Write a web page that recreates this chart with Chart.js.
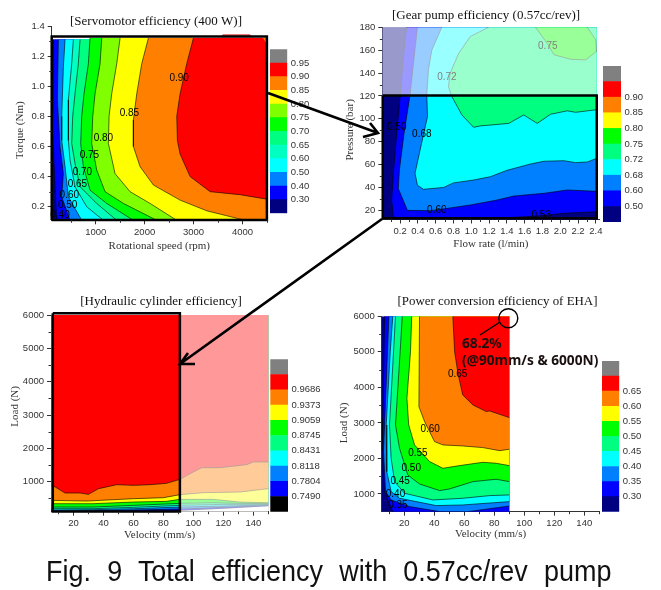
<!DOCTYPE html>
<html><head><meta charset="utf-8">
<script src="https://cdn.jsdelivr.net/npm/chart.js@4"></script>
<style>
html,body{margin:0;padding:0;background:#fff;width:661px;height:590px;overflow:hidden}
canvas{position:absolute;left:0;top:0}
svg{position:absolute;left:0;top:0}
#cap{position:absolute;left:46px;top:555px;width:608px;font:29px "Liberation Sans",Arial,sans-serif;color:#111;white-space:nowrap;text-align:justify;text-align-last:justify;transform:scaleX(.93);transform-origin:0 0}
</style></head><body>
<div id="stack"></div>
<svg width="661" height="590" fill="none" stroke="#000">
<path d="M268 93L378 133M370 123L378 133L363 137M382 219L180 364M195 364L180 364L188 353" stroke-width="2.6"/>
<circle cx="508.3" cy="318.3" r="9.5" stroke-width="1.4"/>
<path d="M480 335L500 322" stroke-width="1.4"/>
</svg>
<div id="cap">Fig. 9 Total efficiency with 0.57cc/rev pump</div>
<script>
// ---- colours
const NAVY='#000080',BLUE='#0000ff',AZURE='#0080ff',CYAN='#00ffff',SPRING2='#00ffc0',SPRING='#00ff80',GREEN='#00ff00',LIME='#80ff00',YELLOW='#ffff00',ORANGE='#ff8000',RED='#ff0000',GRAY='#808080',BLACK='#000000';

// ---- Panel 1: servomotor efficiency (rpm, Nm)
const motorXTicks=[1000,2000,3000,4000], motorXMinor=[500,1500,2500,3500,4500];
const motorYTicks=[0.2,0.4,0.6,0.8,1.0,1.2,1.4], motorYMinor=[0.3,0.5,0.7,0.9,1.1,1.3];
const motorBase=[[100,0.11],[4500,0.11],[4500,1.31],[100,1.31]];
const motor030=[[134,1.31],[120,0.69],[168,0.333],[202,0.11]];
const motor040=[[236,1.31],[216,0.91],[270,0.6],[339,0.42],[305,0.266],[475,0.11]];
const motor050=[[373,1.31],[339,1.13],[305,0.8],[305,0.64],[373,0.466],[441,0.266],[714,0.11]];
const motor060=[[543,1.31],[509,1.15],[441,0.91],[441,0.64],[475,0.51],[577,0.333],[816,0.2],[1157,0.11]];
const motor065=[[680,1.31],[645,1.15],[577,0.95],[530,0.8],[509,0.62],[577,0.488],[680,0.333],[1020,0.222],[1430,0.11]];
const motor070=[[884,1.32],[850,1.15],[761,0.95],[714,0.8],[693,0.62],[748,0.466],[884,0.31],[1225,0.222],[1770,0.11]];
const motor075=[[1123,1.32],[1089,1.15],[986,0.95],[939,0.8],[918,0.62],[1020,0.444],[1191,0.3],[1566,0.222],[2248,0.11]];
const motor080=[[1498,1.32],[1430,1.15],[1327,0.95],[1273,0.8],[1259,0.62],[1395,0.42],[1702,0.3],[2111,0.222],[2657,0.11]];
const motor085=[[2077,1.32],[1941,1.15],[1839,0.95],[1770,0.776],[1770,0.6],[1907,0.466],[2180,0.344],[2725,0.244],[3270,0.173],[4054,0.11]];
const motor090=[[2998,1.32],[2861,1.15],[2725,0.95],[2657,0.8],[2670,0.64],[2725,0.55],[2930,0.4],[3339,0.3],[3952,0.28],[4500,0.25]];
const motorCapTop=[[3543,1.325],[3600,1.345],[4150,1.345],[4225,1.325]];
const motorRect=[[100,0.112],[4500,0.112],[4500,1.33],[100,1.33],[100,0.112]];
const motorBarColors=[NAVY,BLUE,AZURE,CYAN,SPRING2,SPRING,GREEN,LIME,YELLOW,ORANGE,RED,GRAY];
const motorBarLabels=['0.30','0.40','0.50','0.60','0.65','0.70','0.75','0.80','0.85','0.90','0.95'];
const motorText=[['0.90',2705,1.052],['0.85',1689,0.82],['0.80',1157,0.658],['0.75',870,0.539],['0.70',727,0.432],['0.65',625,0.348],['0.60',461,0.277],['0.50',427,0.211],['0.40',270,0.145]];

// ---- Panel 2: gear pump efficiency (l/min, bar)
const pumpXTicks=[0.2,0.4,0.6,0.8,1.0,1.2,1.4,1.6,1.8,2.0,2.2,2.4], pumpXMinor=[0.1,0.3,0.5,0.7,0.9,1.1,1.3,1.5,1.7,1.9,2.1,2.3];
const pumpYTicks=[20,40,60,80,100,120,140,160,180], pumpYMinor=[30,50,70,90,110,130,150,170];
const pumpBase=[[0,12],[2.41,12],[2.41,180],[0,180]];
const pump050=[[0.274,180],[0.244,160],[0.2,119.4],[0.162,87],[0.124,52],[0.105,29],[0.124,14.5],[0.13,12]];
const pump053=[[1.402,13.6],[1.74,15],[2.04,17.4],[2.41,18.8]];
const pump060=[[0.395,180],[0.312,121],[0.244,87],[0.192,55],[0.18,39],[0.282,20],[0.538,19.7],[0.726,21.7],[0.989,24.7],[1.289,29],[1.477,32.5],[1.816,34.9],[2.079,37.8],[2.41,36.6]];
const pump068=[[0.669,180],[0.556,160],[0.519,143],[0.5,121],[0.508,102],[0.425,72.8],[0.368,52.4],[0.395,42],[0.462,38.4],[0.688,40],[0.8,44],[1.026,46.5],[1.214,49.4],[1.402,55],[1.665,60.5],[1.816,62.9],[2.04,63.4],[2.173,61.7],[2.305,62.3],[2.41,65.5]];
const pump072=[[1.195,180],[0.989,172],[0.857,157],[0.763,140],[0.744,128],[0.782,119.4],[0.895,103.4],[1.026,92.6],[1.1,93.8],[1.421,96],[1.59,103.4],[1.741,96],[1.891,104],[2.079,107],[2.173,105.7],[2.41,108]];
const pump075=[[1.722,180],[1.853,166],[1.929,156],[2.117,152],[2.286,151.5],[2.406,158.8],[2.4,169],[2.304,180]];
const pumpFade=[[0,120],[2.41,120],[2.41,180],[0,180]];
const pumpRect=[[0.005,120.3],[2.41,120.3],[2.41,13],[0.005,13],[0.005,120.3]];
const pumpBarColors=[NAVY,BLUE,AZURE,CYAN,SPRING,GREEN,YELLOW,ORANGE,RED,GRAY];
const pumpBarLabels=['0.50','0.60','0.68','0.72','0.75','0.80','0.85','0.90'];
const pumpText=[['0.75',1.86,163.7,'#808080'],['0.72',0.726,136,'#808080'],['0.50',0.162,92.6],['0.68',0.444,86.5],['0.60',0.613,20.3],['0.53',1.786,15.9]];

// ---- Panel 3: hydraulic cylinder efficiency (mm/s, N)
const cylXTicks=[20,40,60,80,100,120,140], cylXMinor=[10,30,50,70,90,110,130,150];
const cylYTicks=[1000,2000,3000,4000,5000,6000], cylYMinor=[500,1500,2500,3500,4500,5500];
const cylBase=[[5.5,100],[150,100],[150,6000],[5.5,6000]];
const cyl7490=[[5.5,105],[60,110],[91,130],[150,250]];
const cyl7804=[[5.5,115],[20,120],[40,130],[60,150],[91,180],[150,280]];
const cyl8118=[[5.5,150],[33,160],[60,190],[91,240],[150,300]];
const cyl8431=[[5.5,190],[33,190],[60,230],[91,290],[120,320],[150,320]];
const cyl8745=[[5.5,240],[33,240],[60,290],[91,350],[113,370],[131,350],[150,340]];
const cyl9059=[[5.5,340],[33,340],[60,390],[82,410],[91,470],[113,470],[131,390],[150,370]];
const cyl9373=[[5.5,440],[28.9,420],[60,490],[80,520],[91,610],[106.7,670],[131,690],[150,790]];
const cyl9686=[[5.5,870],[7.8,840],[14.4,660],[24.4,660],[30,620],[36.7,790],[48.9,910],[60,890],[71,910],[82,950],[91,1070],[97.8,1240],[105.6,1420],[117.8,1420],[135.6,1510],[140,1590],[150,1590]];
const cylFade=[[91,100],[150,100],[150,6000],[91,6000]];
const cylEmpty=[[91,125],[120,190],[150,260],[150,100],[91,100]];
const cylRect=[[6.2,6050],[91,6050],[91,105],[6.2,105],[6.2,6050]];
const cylBarColors=[BLACK,BLUE,AZURE,CYAN,SPRING,GREEN,YELLOW,ORANGE,RED,GRAY];
const cylBarLabels=['0.7490','0.7804','0.8118','0.8431','0.8745','0.9059','0.9373','0.9686'];

// ---- Panel 4: power conversion efficiency (mm/s, N)
const ehaXTicks=[20,40,60,80,100,120,140], ehaXMinor=[10,30,50,70,90,110,130,150];
const ehaYTicks=[1000,2000,3000,4000,5000,6000], ehaYMinor=[1500,2500,3500,4500,5500];
const ehaBase=[[5,500],[90,500],[90,6000],[5,6000]];
const eha030=[[6.9,6000],[5.8,3129],[5.3,2191],[6.9,1066],[12.4,500]];
const eha035=[[9.8,6000],[8,4067],[6.2,2191],[7.6,1066],[11.3,831],[23.6,644],[43.6,503],[62,500],[90,660]];
const eha040=[[12.4,6000],[10.7,5005],[8,2942],[8.4,1628],[11.3,1066],[16.9,878],[41.3,672],[59,690],[90,784]];
const eha045=[[14.2,6000],[12.9,5005],[10.2,2942],[11.3,2004],[13.6,1347],[20.2,1019],[39.1,831],[59,878],[76.9,953],[90,972]];
const eha050=[[18.7,6000],[17.3,5005],[14.2,2942],[16.9,2285],[22.4,1535],[30.2,1281],[43.6,1094],[50.2,1141],[65.8,1347],[81.3,1413],[90,1347]];
const eha055=[[25,6000],[24.2,5005],[21.8,3692],[23,2942],[26.9,2379],[36.9,1910],[45.8,1722],[56.9,1797],[72.4,1891],[81.3,1863],[90,1797]];
const eha060=[[30.2,6000],[29.8,3458],[33.6,3035],[40.2,2473],[45.8,2379],[59,2351],[72.4,2304],[83.6,2219],[90,2257]];
const eha065=[[52.4,6000],[53.6,5005],[55.8,4395],[59,3786],[65.8,3504],[74.7,3317],[76.9,3336],[90,3148]];
const ehaBarColors=[NAVY,BLUE,AZURE,CYAN,SPRING,GREEN,YELLOW,ORANGE,RED,GRAY];
const ehaBarLabels=['0.30','0.35','0.40','0.45','0.50','0.55','0.60','0.65'];
const ehaText=[['0.65',55.6,4368],['0.60',37.3,2820],['0.55',29.1,2154],['0.50',24.7,1713],['0.45',17.3,1347],['0.40',14.2,1000],['0.35',15.8,690]];
const ehaNote=[['68.2%',58.5,5220],['(@90mm/s & 6000N)',58.5,4742]];

// ---- helpers
const W=661,H=590,SANS='"Liberation Sans",Arial,sans-serif',SERIF='"Liberation Serif","Times New Roman",serif',INK='#333';
function mkCanvas(){const c=document.createElement('canvas');c.width=W;c.height=H;c.style.width=W+'px';c.style.height=H+'px';document.getElementById('stack').appendChild(c);return c.getContext('2d');}
const figPlugin={id:'fig',
 afterLayout(ch,a,o){
  if(o.titleX!=null&&ch.titleBlock){const t=ch.titleBlock;t.left=o.titleX-100;t.right=o.titleX+100;t.top=o.titleY-6.5;t.bottom=t.top+13;}
  const y=ch.scales.y;
  if(o.yTitleDy&&y&&!y.__wrapped){const d=y.drawTitle;y.drawTitle=function(){const c=this.ctx;c.save();c.translate(0,o.yTitleDy);d.call(this);c.restore();};y.__wrapped=true;}
 },
 afterDraw(ch,a,o){
  const c=ch.ctx;c.save();c.strokeStyle=INK;c.lineWidth=1;c.beginPath();
  (o.xMinor||[]).forEach(v=>{const p=Math.round(ch.scales.x.getPixelForValue(v))+.5,b=ch.chartArea.bottom;c.moveTo(p,b);c.lineTo(p,b+2.5);});
  (o.yMinor||[]).forEach(v=>{const p=Math.round(ch.scales.y.getPixelForValue(v))+.5,l=ch.chartArea.left;c.moveTo(l,p);c.lineTo(l-2.5,p);});
  c.stroke();
  (o.text||[]).forEach(t=>{c.font='10px '+SANS;c.textAlign='center';c.textBaseline='middle';c.fillStyle=t[3]||'#000';c.fillText(t[0],ch.scales.x.getPixelForValue(t[1]),ch.scales.y.getPixelForValue(t[2]));});
  (o.note||[]).forEach(t=>{c.font='bold 13.7px "Noto Sans",'+SANS;c.textAlign='left';c.textBaseline='middle';c.fillStyle='#1a1010';c.fillText(t[0],ch.scales.x.getPixelForValue(t[1]),ch.scales.y.getPixelForValue(t[2]));});
  c.restore();
 }};
function poly(data,color,extra){return Object.assign({type:'scatter',showLine:true,data,fill:'shape',backgroundColor:color,borderWidth:0,borderColor:'rgba(0,0,0,0)',pointRadius:0,tension:0},extra||{});}
function contour(data){return {type:'scatter',showLine:true,data,fill:false,borderColor:'#000',borderWidth:0.6,pointRadius:0,tension:0};}
function panel(p){
 const [l,t,r,b]=p.rect;
 const axisW=l-(p.yTitleX-6.6), axisH=p.xTitleY-b+6.6;
 const layers=p.layers.slice().reverse();
 new Chart(mkCanvas(),{type:'scatter',data:{datasets:layers},plugins:[figPlugin],options:{
  responsive:false,animation:false,events:[],devicePixelRatio:1,
  layout:{autoPadding:false,padding:{left:l-axisW,top:t-13,right:W-r,bottom:H-b-axisH}},
  plugins:{legend:{display:false},tooltip:{enabled:false},
   title:{display:true,text:p.title,fullSize:false,font:{family:SERIF,size:13,weight:'normal',lineHeight:1},color:'#111',padding:0},
   fig:{titleX:p.titleX,titleY:p.titleY,yTitleDy:p.yTitleDy,xMinor:p.xMinor,yMinor:p.yMinor,text:p.text,note:p.note}},
  scales:{
   x:{type:'linear',min:p.xRange[0],max:p.xRange[1],
    afterFit:s=>{s.height=axisH;},afterBuildTicks:s=>{s.ticks=p.xTicks.map(v=>({value:v}));},
    grid:{display:true,drawOnChartArea:false,tickLength:4,tickColor:INK},border:{color:INK},
    ticks:{autoSkip:false,maxRotation:0,padding:2,color:INK,font:{family:SANS,size:9.5},callback:v=>p.xFmt?p.xFmt(v):v},
    title:{display:true,text:p.xTitle,color:INK,padding:0,font:{family:SERIF,size:11,lineHeight:1.2}}},
   y:{type:'linear',min:p.yRange[0],max:p.yRange[1],
    afterFit:s=>{s.width=axisW;},afterBuildTicks:s=>{s.ticks=p.yTicks.map(v=>({value:v}));},
    grid:{display:true,drawOnChartArea:false,tickLength:4,tickColor:INK},border:{color:INK},
    ticks:{autoSkip:false,padding:3,color:INK,font:{family:SANS,size:9.5},callback:v=>p.yFmt?p.yFmt(v):v},
    title:{display:true,text:p.yTitle,color:INK,padding:0,font:{family:SERIF,size:11,lineHeight:1.2}}}
  }}});
}
function colorbar(rect,colors,labels){
 const [l,t,r,b]=rect;
 new Chart(mkCanvas(),{type:'bar',data:{labels:[''],datasets:colors.map(c=>({data:[1],backgroundColor:c,borderWidth:0,barPercentage:1,categoryPercentage:1}))},options:{
  responsive:false,animation:false,events:[],devicePixelRatio:1,
  layout:{autoPadding:false,padding:{left:l,top:t,right:W-r-40,bottom:H-b}},
  plugins:{legend:{display:false},tooltip:{enabled:false}},
  scales:{x:{display:false,stacked:true},
   y:{position:'right',stacked:true,min:0,max:colors.length,
    afterFit:s=>{s.width=40;},afterBuildTicks:s=>{s.ticks=labels.map((_,i)=>({value:i+1}));},
    grid:{display:false,drawTicks:false},border:{display:false},
    ticks:{autoSkip:false,padding:3.5,color:INK,font:{family:SANS,size:9.5},callback:v=>labels[v-1]}}}}});
}
function bands(list,closure){ // list of [contour,color]
 const out=[];list.forEach(([d,col])=>out.push(poly(d.concat(closure),col)));
 list.forEach(([d])=>out.push(contour(d)));
 return out;
}
const F1=v=>v.toFixed(1);

// ---- Panel 1
panel({title:'[Servomotor efficiency (400 W)]',titleX:156,titleY:22,rect:[51.7,26,266.9,220.3],xRange:[100,4500],yRange:[0.11,1.4],
 xTicks:motorXTicks,yTicks:motorYTicks,xMinor:motorXMinor,yMinor:motorYMinor,yFmt:F1,
 xTitle:'Rotational speed (rpm)',yTitle:'Torque (Nm)',xTitleY:245.7,yTitleX:20,yTitleDy:7,text:motorText,
 layers:[poly(motorBase,NAVY)].concat(
  bands([[motor030,BLUE],[motor040,AZURE],[motor050,CYAN],[motor060,SPRING2],[motor065,SPRING],[motor070,GREEN],[motor075,LIME],[motor080,YELLOW],[motor085,ORANGE]],[[4500,0.11],[4500,1.32]]),
  [poly(motor090.concat([[4500,1.28],[4420,1.32]]),RED),contour(motor090),poly(motorCapTop,'#e05050'),
   poly(motorRect,'rgba(0,0,0,0)',{fill:false,borderColor:'#000',borderWidth:2.5,clip:false})])});
colorbar([270,49.3,287.3,213.3],motorBarColors,motorBarLabels);

// ---- Panel 2
panel({title:'[Gear pump efficiency (0.57cc/rev)]',titleX:486,titleY:16,rect:[382.3,27.3,599.4,219.5],xRange:[0,2.44],yRange:[12,180],
 xTicks:pumpXTicks,yTicks:pumpYTicks,xMinor:pumpXMinor,yMinor:pumpYMinor,xFmt:F1,
 xTitle:'Flow rate (l/min)',yTitle:'Pressure (bar)',xTitleY:244,yTitleX:350,yTitleDy:6.5,text:pumpText,
 layers:[poly(pumpBase,NAVY),poly(pump050.concat([[2.41,12],[2.41,180]]),BLUE),poly(pump053.concat([[2.41,12],[1.4,12]]),NAVY),
  poly(pump060.concat([[2.41,180]]),AZURE),poly(pump068.concat([[2.41,180]]),CYAN),poly(pump072.concat([[2.41,180]]),SPRING),poly(pump075,GREEN),
  contour(pump050),contour(pump053),contour(pump060),contour(pump068),contour(pump072),contour(pump075),
  poly(pumpFade,'rgba(255,255,255,0.6)'),
  poly(pumpRect,'rgba(0,0,0,0)',{fill:false,borderColor:'#000',borderWidth:2.5,clip:false})]});
colorbar([603,66,621,222],pumpBarColors,pumpBarLabels);

// ---- Panel 3
panel({title:'[Hydraulic cylinder efficiency]',titleX:161,titleY:302,rect:[51,315,268.3,511.7],xRange:[5,150],yRange:[100,6000],
 xTicks:cylXTicks,yTicks:cylYTicks,xMinor:cylXMinor,yMinor:cylYMinor,
 xTitle:'Velocity (mm/s)',yTitle:'Load (N)',xTitleY:535,yTitleX:15,yTitleDy:-7,
 layers:[poly(cylBase,BLACK)].concat(
  bands([[cyl7490,BLUE],[cyl7804,AZURE],[cyl8118,CYAN],[cyl8431,SPRING],[cyl8745,GREEN],[cyl9059,YELLOW],[cyl9373,ORANGE],[cyl9686,RED]],[[150,6000],[5.5,6000]]),
  [poly(cylFade,'rgba(255,255,255,0.6)'),poly(cylEmpty,'#ffffff'),
   poly(cylRect,'rgba(0,0,0,0)',{fill:false,borderColor:'#000',borderWidth:2.5,clip:false})])});
colorbar([270.3,359.3,288,511.7],cylBarColors,cylBarLabels);

// ---- Panel 4
panel({title:'[Power conversion efficiency of EHA]',titleX:497.5,titleY:302,rect:[381.7,316.3,599.3,511.7],xRange:[5,150],yRange:[500,6000],
 xTicks:ehaXTicks,yTicks:ehaYTicks,xMinor:ehaXMinor,yMinor:ehaYMinor,
 xTitle:'Velocity (mm/s)',yTitle:'Load (N)',xTitleY:534,yTitleX:344,yTitleDy:9,text:ehaText,note:ehaNote,
 layers:[poly(ehaBase,NAVY)].concat(
  bands([[eha030,BLUE],[eha035,AZURE],[eha040,CYAN],[eha045,SPRING],[eha050,GREEN],[eha055,YELLOW],[eha060,ORANGE],[eha065,RED]],[[90,500],[90,6000]]))});
colorbar([602,361,619.3,511.7],ehaBarColors,ehaBarLabels);
</script>
</body></html>
